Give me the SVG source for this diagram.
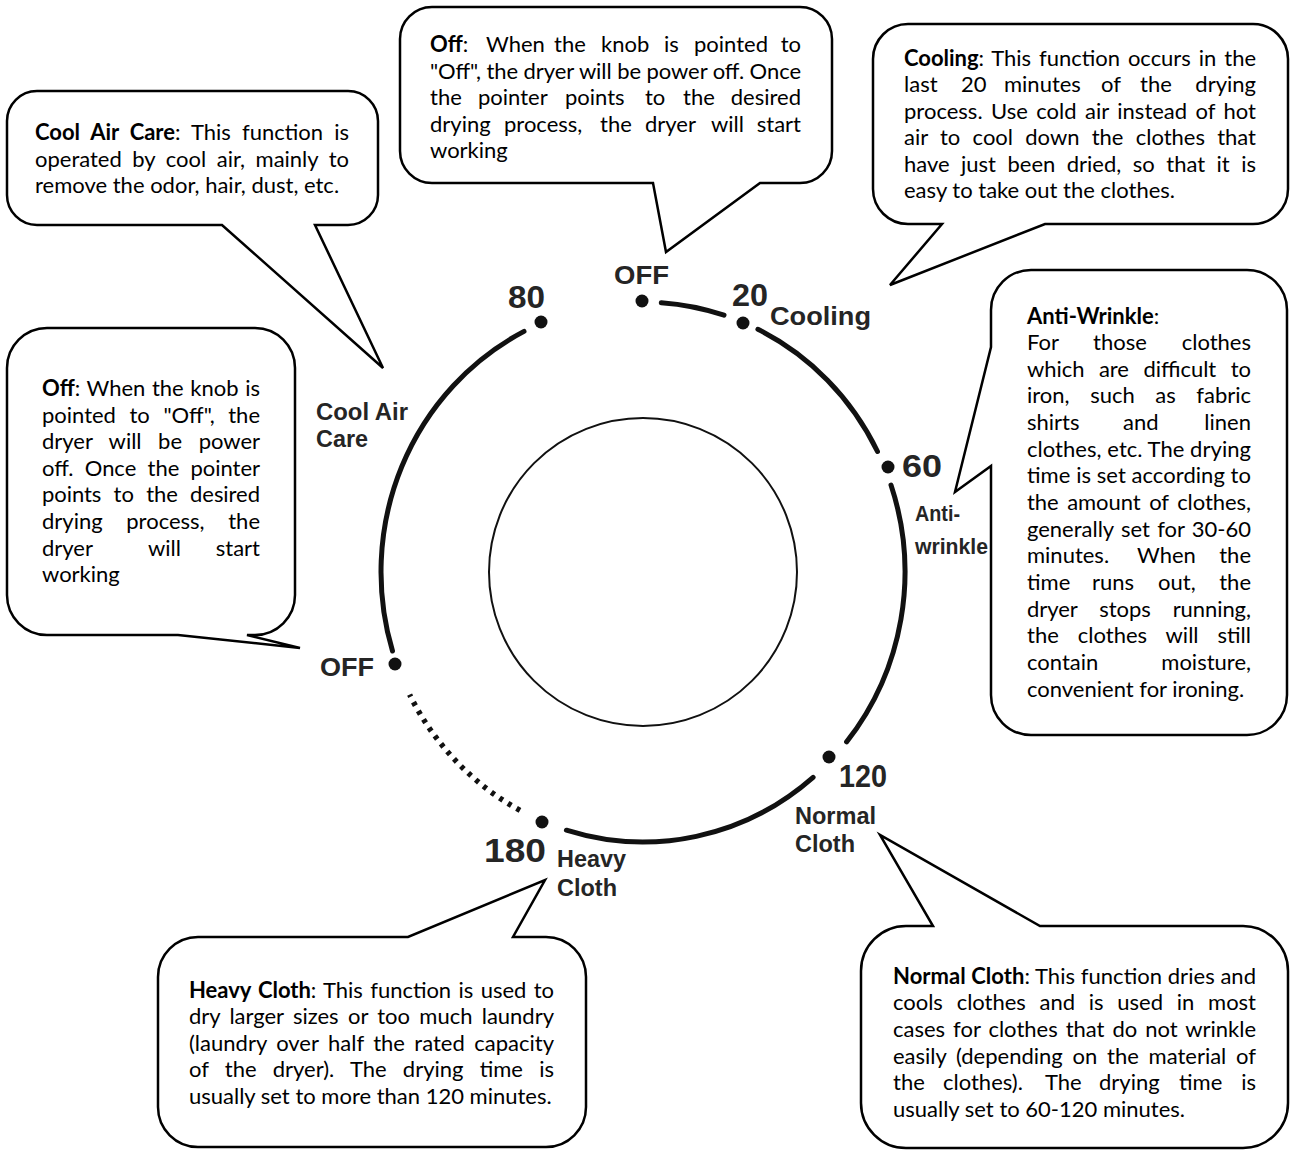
<svg xmlns="http://www.w3.org/2000/svg" width="1290" height="1151" viewBox="0 0 1290 1151">
<style>
.t{font-family:Lato,"Open Sans","Liberation Sans",sans-serif;font-size:22px;fill:#000}
.b{font-weight:bold}
.bub{fill:#fff;stroke:#000;stroke-width:2.5;stroke-linejoin:miter}
.d{font-family:"Liberation Sans",Arial,sans-serif;font-weight:bold;fill:#252525}
.arc{fill:none;stroke:#111;stroke-width:5;stroke-linecap:round}
.dot{fill:#111}
</style>
<rect width="1290" height="1151" fill="#fff"/>

<g id="dial">
  <circle cx="643" cy="572" r="154" fill="none" stroke="#111" stroke-width="2"/>
  <path class="arc" d="M 661.3 302.7 A 262 270 0 0 1 724.0 315.2"/>
  <path class="arc" d="M 757.9 329.3 A 262 270 0 0 1 877.5 451.5"/>
  <path class="arc" d="M 891.0 485.0 A 262 270 0 0 1 846.6 741.9"/>
  <path class="arc" d="M 813.1 777.3 A 262 270 0 0 1 566.4 830.2"/>
  <path d="M 520.0 810.4 A 262 270 0 0 1 409.6 694.6" fill="none" stroke="#111" stroke-width="5.5" stroke-dasharray="4 6"/>
  <path class="arc" d="M 392.5 651.0 A 262 270 0 0 1 524.0 331.4"/>
  <circle class="dot" cx="642" cy="301" r="6.5"/>
  <circle class="dot" cx="743" cy="323" r="6.5"/>
  <circle class="dot" cx="888" cy="467" r="6.5"/>
  <circle class="dot" cx="829" cy="757" r="6.5"/>
  <circle class="dot" cx="542" cy="822" r="6.5"/>
  <circle class="dot" cx="395" cy="664" r="6.5"/>
  <circle class="dot" cx="541" cy="322" r="6.5"/>
  <text class="d" x="614" y="284" font-size="25" textLength="55" lengthAdjust="spacingAndGlyphs">OFF</text>
  <text class="d" x="508" y="308" font-size="31" textLength="37" lengthAdjust="spacingAndGlyphs">80</text>
  <text class="d" x="732" y="306" font-size="31" textLength="36" lengthAdjust="spacingAndGlyphs">20</text>
  <text class="d" x="770" y="325" font-size="25" textLength="101" lengthAdjust="spacingAndGlyphs">Cooling</text>
  <text class="d" x="902" y="477" font-size="32" textLength="40" lengthAdjust="spacingAndGlyphs">60</text>
  <text class="d" x="915" y="521" font-size="22" textLength="45" lengthAdjust="spacingAndGlyphs">Anti-</text>
  <text class="d" x="915" y="554" font-size="22" textLength="73" lengthAdjust="spacingAndGlyphs">wrinkle</text>
  <text class="d" x="316" y="420" font-size="23" textLength="92" lengthAdjust="spacingAndGlyphs">Cool Air</text>
  <text class="d" x="316" y="447" font-size="23" textLength="52" lengthAdjust="spacingAndGlyphs">Care</text>
  <text class="d" x="320" y="676" font-size="25" textLength="54" lengthAdjust="spacingAndGlyphs">OFF</text>
  <text class="d" x="839" y="787" font-size="31" textLength="48" lengthAdjust="spacingAndGlyphs">120</text>
  <text class="d" x="795" y="824" font-size="23" textLength="81" lengthAdjust="spacingAndGlyphs">Normal</text>
  <text class="d" x="795" y="852" font-size="23" textLength="60" lengthAdjust="spacingAndGlyphs">Cloth</text>
  <text class="d" x="484" y="862" font-size="34" textLength="62" lengthAdjust="spacingAndGlyphs">180</text>
  <text class="d" x="557" y="867" font-size="23" textLength="69" lengthAdjust="spacingAndGlyphs">Heavy</text>
  <text class="d" x="557" y="896" font-size="23" textLength="60" lengthAdjust="spacingAndGlyphs">Cloth</text>
</g>

<g id="connectors"></g>

<g id="cool-air-care">
  <path class="bub" d="M 37 91 H 348 A 30 30 0 0 1 378 121 V 195 A 30 30 0 0 1 348 225 H 315 L 383 368 L 222 225 H 37 A 30 30 0 0 1 7 195 V 121 A 30 30 0 0 1 37 91 Z"/>
  <text class="t" x="35" y="140" word-spacing="5.6" textLength="314" lengthAdjust="spacing"><tspan class="b">Cool Air Care</tspan>: This function is</text>
  <text class="t" x="35" y="167" word-spacing="5" textLength="314" lengthAdjust="spacing">operated by cool air, mainly to</text>
  <text class="t" x="35" y="193">remove the odor, hair, dust, etc.</text>
</g>

<g id="off-top">
  <path class="bub" d="M 432 7 H 800 A 32 32 0 0 1 832 39 V 151 A 32 32 0 0 1 800 183 H 760 L 666 252 L 653 183 H 432 A 32 32 0 0 1 400 151 V 39 A 32 32 0 0 1 432 7 Z"/>
  <text class="t" y="52"><tspan x="430" class="b">Off</tspan>:<tspan x="486">When</tspan><tspan x="554">the</tspan><tspan x="601">knob</tspan><tspan x="664">is</tspan><tspan x="694">pointed</tspan><tspan x="801" text-anchor="end">to</tspan></text>
  <text class="t" x="430" y="79" textLength="371" lengthAdjust="spacing">"Off", the dryer will be power off. Once</text>
  <text class="t" y="105"><tspan x="430">the</tspan><tspan x="478">pointer</tspan><tspan x="565">points</tspan><tspan x="645">to</tspan><tspan x="683">the</tspan><tspan x="801" text-anchor="end">desired</tspan></text>
  <text class="t" y="132"><tspan x="430">drying</tspan><tspan x="504">process,</tspan><tspan x="600">the</tspan><tspan x="645">dryer</tspan><tspan x="711">will</tspan><tspan x="801" text-anchor="end">start</tspan></text>
  <text class="t" x="430" y="158">working</text>
</g>

<g id="cooling">
  <path class="bub" d="M 908 24 H 1253 A 35 35 0 0 1 1288 59 V 189 A 35 35 0 0 1 1253 224 H 1045 L 890 285 L 942 224 H 908 A 35 35 0 0 1 873 189 V 59 A 35 35 0 0 1 908 24 Z"/>
  <text class="t" x="904" y="66" word-spacing="2.4" textLength="352" lengthAdjust="spacing"><tspan class="b">Cooling</tspan>: This function occurs in the</text>
  <text class="t" y="92"><tspan x="904">last</tspan><tspan x="961">20</tspan><tspan x="1004">minutes</tspan><tspan x="1101">of</tspan><tspan x="1140">the</tspan><tspan x="1256" text-anchor="end">drying</tspan></text>
  <text class="t" x="904" y="119" word-spacing="2.8" textLength="352" lengthAdjust="spacing">process. Use cold air instead of hot</text>
  <text class="t" x="904" y="145" word-spacing="6.7" textLength="352" lengthAdjust="spacing">air to cool down the clothes that</text>
  <text class="t" x="904" y="172" word-spacing="5.9" textLength="352" lengthAdjust="spacing">have just been dried, so that it is</text>
  <text class="t" x="904" y="198">easy to take out the clothes.</text>
</g>

<g id="anti-wrinkle">
  <path class="bub" d="M 1031 270 H 1247 A 40 40 0 0 1 1287 310 V 695 A 40 40 0 0 1 1247 735 H 1031 A 40 40 0 0 1 991 695 V 466 L 955 492 L 991 347 V 310 A 40 40 0 0 1 1031 270 Z"/>
  <text class="t" x="1027" y="324"><tspan class="b">Anti-Wrinkle</tspan>:</text>
  <text class="t" y="350"><tspan x="1027">For</tspan><tspan x="1093">those</tspan><tspan x="1251" text-anchor="end">clothes</tspan></text>
  <text class="t" x="1027" y="377" word-spacing="9" textLength="224" lengthAdjust="spacing">which are difficult to</text>
  <text class="t" x="1027" y="403" word-spacing="15" textLength="224" lengthAdjust="spacing">iron, such as fabric</text>
  <text class="t" y="430"><tspan x="1027">shirts</tspan><tspan x="1123">and</tspan><tspan x="1251" text-anchor="end">linen</tspan></text>
  <text class="t" x="1027" y="457" textLength="224" lengthAdjust="spacing">clothes, etc. The drying</text>
  <text class="t" x="1027" y="483" textLength="224" lengthAdjust="spacing">time is set according to</text>
  <text class="t" x="1027" y="510" word-spacing="3" textLength="224" lengthAdjust="spacing">the amount of clothes,</text>
  <text class="t" x="1027" y="537" word-spacing="1.7" textLength="224" lengthAdjust="spacing">generally set for 30-60</text>
  <text class="t" y="563"><tspan x="1027">minutes.</tspan><tspan x="1137">When</tspan><tspan x="1251" text-anchor="end">the</tspan></text>
  <text class="t" y="590"><tspan x="1027">time</tspan><tspan x="1092">runs</tspan><tspan x="1158">out,</tspan><tspan x="1251" text-anchor="end">the</tspan></text>
  <text class="t" x="1027" y="617" word-spacing="16.5" textLength="224" lengthAdjust="spacing">dryer stops running,</text>
  <text class="t" x="1027" y="643" word-spacing="13.3" textLength="224" lengthAdjust="spacing">the clothes will still</text>
  <text class="t" y="670"><tspan x="1027">contain</tspan><tspan x="1251" text-anchor="end">moisture,</tspan></text>
  <text class="t" x="1027" y="697">convenient for ironing.</text>
</g>

<g id="off-left">
  <path class="bub" d="M 47 328 H 255 A 40 40 0 0 1 295 368 V 595 A 40 40 0 0 1 255 635 H 247 L 300 648 L 178 635 H 47 A 40 40 0 0 1 7 595 V 368 A 40 40 0 0 1 47 328 Z"/>
  <text class="t" x="42" y="396" word-spacing="1" textLength="218" lengthAdjust="spacing"><tspan class="b">Off</tspan>: When the knob is</text>
  <text class="t" x="42" y="423" word-spacing="8" textLength="218" lengthAdjust="spacing">pointed to "Off", the</text>
  <text class="t" x="42" y="449" word-spacing="11" textLength="218" lengthAdjust="spacing">dryer will be power</text>
  <text class="t" x="42" y="476" word-spacing="5.7" textLength="218" lengthAdjust="spacing">off. Once the pointer</text>
  <text class="t" x="42" y="502" word-spacing="6.7" textLength="218" lengthAdjust="spacing">points to the desired</text>
  <text class="t" x="42" y="529" word-spacing="18" textLength="218" lengthAdjust="spacing">drying process, the</text>
  <text class="t" y="556"><tspan x="42">dryer</tspan><tspan x="148">will</tspan><tspan x="260" text-anchor="end">start</tspan></text>
  <text class="t" x="42" y="582">working</text>
</g>

<g id="heavy-cloth">
  <path class="bub" d="M 198 937 H 408 L 545 880 L 513 937 H 546 A 40 40 0 0 1 586 977 V 1107 A 40 40 0 0 1 546 1147 H 198 A 40 40 0 0 1 158 1107 V 977 A 40 40 0 0 1 198 937 Z"/>
  <text class="t" x="189" y="998" word-spacing="1.8" textLength="365" lengthAdjust="spacing"><tspan class="b">Heavy Cloth</tspan>: This function is used to</text>
  <text class="t" x="189" y="1024" word-spacing="3.7" textLength="365" lengthAdjust="spacing">dry larger sizes or too much laundry</text>
  <text class="t" x="189" y="1051" word-spacing="3.8" textLength="365" lengthAdjust="spacing">(laundry over half the rated capacity</text>
  <text class="t" x="189" y="1077" word-spacing="10.7" textLength="365" lengthAdjust="spacing">of the dryer). The drying time is</text>
  <text class="t" x="189" y="1104">usually set to more than 120 minutes.</text>
</g>

<g id="normal-cloth">
  <path class="bub" d="M 906 926 H 933 L 880 835 L 1040 926 H 1243 A 45 45 0 0 1 1288 971 V 1103 A 45 45 0 0 1 1243 1148 H 906 A 45 45 0 0 1 861 1103 V 971 A 45 45 0 0 1 906 926 Z"/>
  <text class="t" x="893" y="984" textLength="363" lengthAdjust="spacing"><tspan class="b">Normal Cloth</tspan>: This function dries and</text>
  <text class="t" x="893" y="1010" word-spacing="8.2" textLength="363" lengthAdjust="spacing">cools clothes and is used in most</text>
  <text class="t" x="893" y="1037" word-spacing="2.3" textLength="363" lengthAdjust="spacing">cases for clothes that do not wrinkle</text>
  <text class="t" x="893" y="1064" word-spacing="4.2" textLength="363" lengthAdjust="spacing">easily (depending on the material of</text>
  <text class="t" y="1090"><tspan x="893">the</tspan><tspan x="943">clothes).</tspan><tspan x="1045">The</tspan><tspan x="1099">drying</tspan><tspan x="1179">time</tspan><tspan x="1256" text-anchor="end">is</tspan></text>
  <text class="t" x="893" y="1117">usually set to 60-120 minutes.</text>
</g>
</svg>
